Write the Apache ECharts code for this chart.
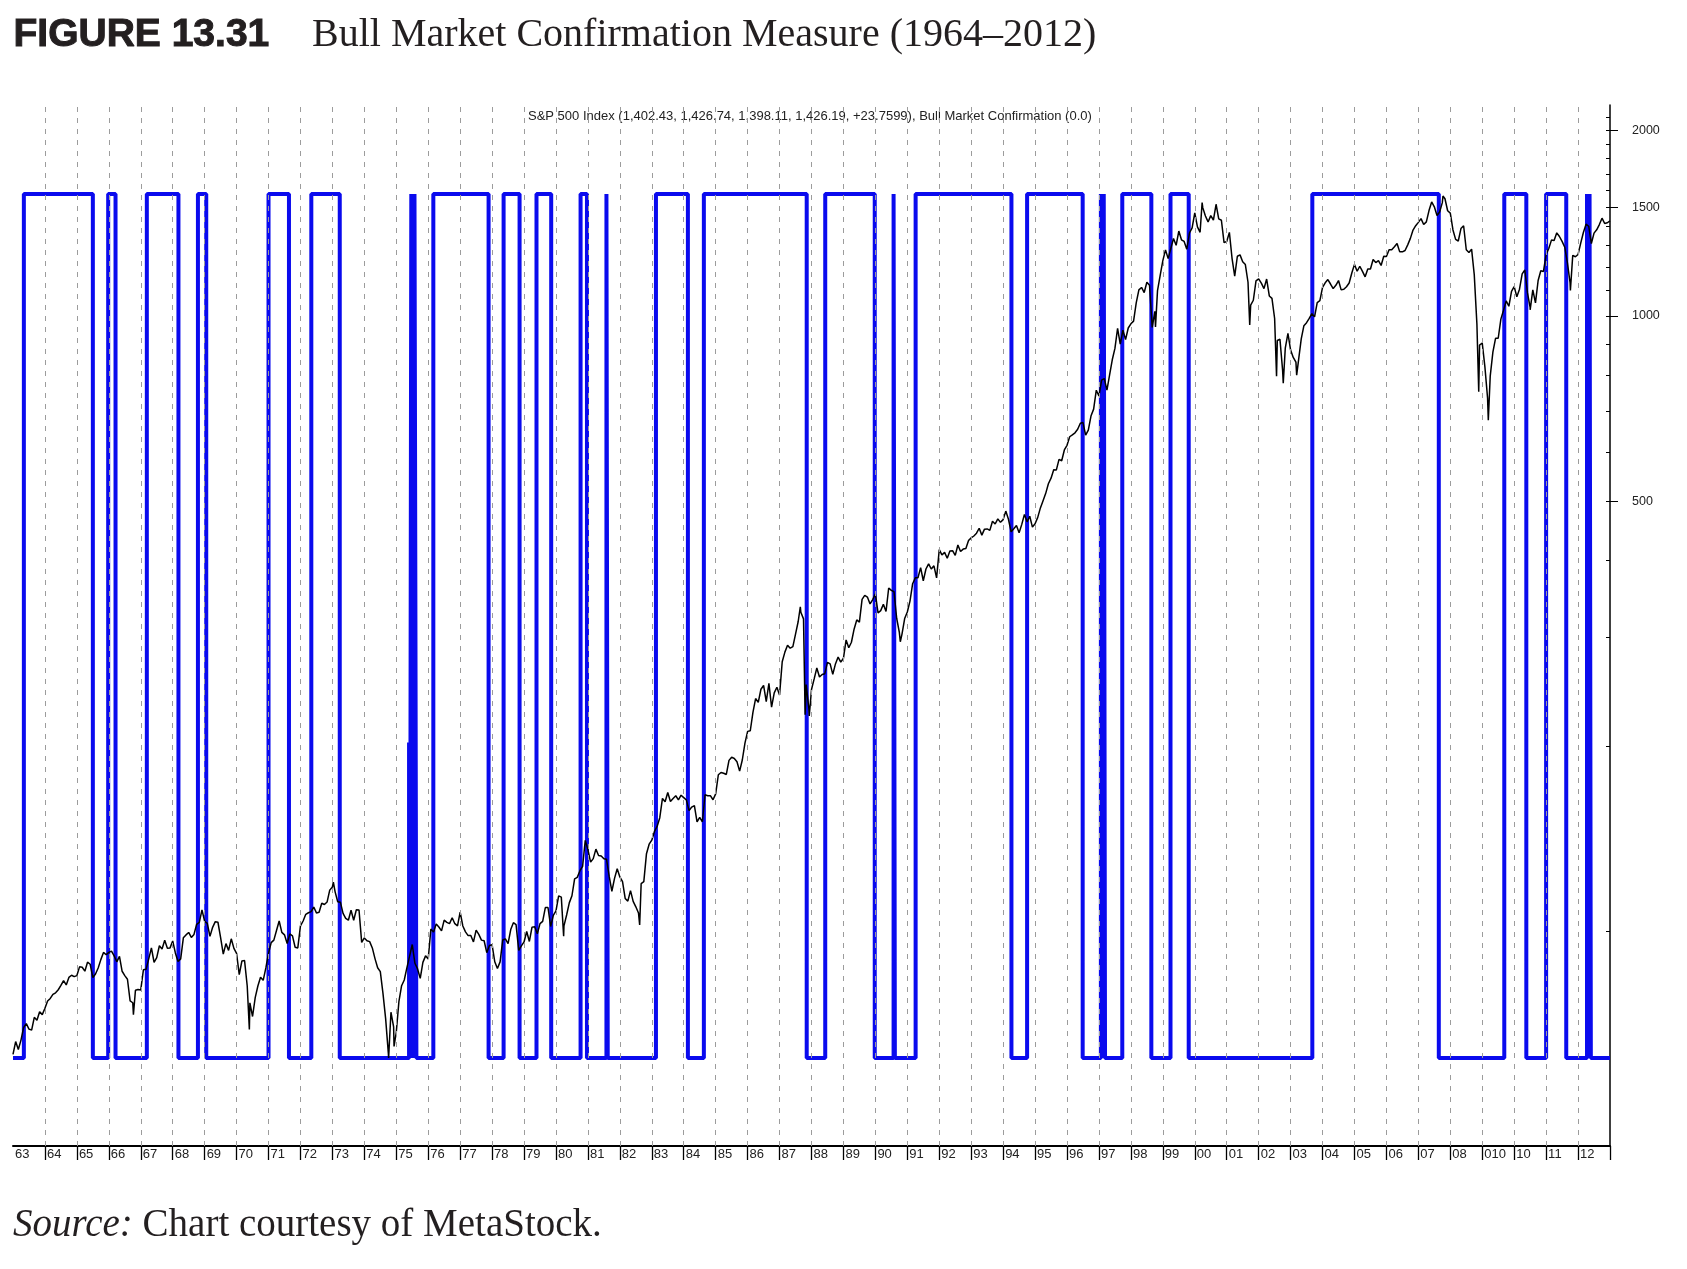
<!DOCTYPE html>
<html><head><meta charset="utf-8">
<script src="https://cdn.jsdelivr.net/npm/echarts@6/dist/echarts.min.js"></script>
<style>html,body{margin:0;padding:0;background:#fff;}#chart{width:1687px;height:1269px;}</style>
</head><body><div id="chart"></div>
<script>
// S&P 500 monthly closes (first value = Dec 1962 close)
const spx1960s = [63.10,
 66.20,64.29,66.57,69.80,70.80,69.37,69.13,72.50,71.70,74.01,73.23,75.02,
 77.04,77.80,78.98,79.46,80.37,81.69,83.18,81.83,84.18,84.86,84.42,84.75,
 87.56,87.43,86.16,89.11,88.42,84.12,85.25,87.17,89.96,92.42,91.61,92.43,
 92.88,91.22,89.23,91.06,86.13,84.74,83.60,77.10,76.56,80.20,80.45,80.33,
 86.61,86.78,90.20,94.01,89.08,90.64,94.75,93.64,96.71,93.90,94.00,96.47,
 92.24,89.36,90.20,97.59,98.68,99.58,97.74,98.86,102.67,103.41,108.37,103.86,
 103.01,98.13,101.51,103.69,103.46,97.71,91.83,95.51,93.12,97.24,93.81,92.06];
const spx1970s = [
 85.02,89.50,89.63,81.52,76.55,72.72,78.05,81.52,84.21,83.25,87.20,92.15,
 95.88,96.75,100.31,103.95,99.63,98.70,95.58,99.03,98.34,94.23,93.99,102.09,
 103.94,106.57,107.20,107.67,109.53,107.14,107.39,111.09,110.55,111.58,116.67,118.05,
 116.03,111.68,111.52,106.97,104.95,104.26,108.22,104.25,108.43,108.29,95.96,97.55,
 96.57,96.22,93.98,90.31,87.28,86.00,79.31,72.15,63.54,73.90,69.97,68.56,
 76.98,81.59,83.36,87.30,91.15,95.19,88.75,86.88,83.87,89.04,91.24,90.19,
 100.86,99.71,102.77,101.64,100.18,104.28,103.44,102.91,105.24,102.90,102.10,107.46,
 102.03,99.82,98.42,98.44,96.12,100.48,98.85,96.77,96.53,92.34,94.83,95.10,
 89.25,87.04,89.21,96.83,97.24,95.53,100.68,103.29,102.54,93.15,94.70,96.11,
 99.93,96.28,101.59,101.76,99.08,102.91,103.81,109.32,109.32,101.82,106.16,107.94];
const spx1980s = [
 114.16,113.66,102.09,106.29,111.24,114.24,121.67,122.38,125.46,127.47,140.52,135.76,
 129.55,131.27,136.00,132.81,132.59,131.21,130.92,122.79,116.18,121.89,126.35,122.55,
 120.40,113.11,111.96,116.44,111.88,109.61,107.09,119.51,120.42,133.71,138.54,140.64,
 145.30,148.06,152.96,164.42,162.39,168.11,162.56,164.40,166.07,163.55,166.40,164.93,
 163.41,157.06,159.18,160.05,150.55,153.18,150.66,166.68,166.10,166.09,163.58,167.24,
 179.63,181.18,180.66,179.83,189.55,191.85,190.92,188.63,182.08,189.82,202.17,211.28,
 211.78,226.92,238.90,235.52,247.35,250.84,236.12,252.93,231.32,243.98,249.22,242.17,
 274.08,284.20,291.70,288.36,290.10,304.00,318.66,329.80,321.83,251.79,230.30,247.08,
 257.07,267.82,258.89,261.33,262.16,273.50,272.02,261.52,271.91,278.97,273.70,277.72,
 297.47,288.86,294.87,309.64,320.52,317.98,346.08,351.45,349.15,340.36,345.99,353.40];
const spx1990s = [
 329.08,331.89,339.94,330.80,361.23,358.02,356.15,322.56,306.05,304.00,322.22,330.22,
 343.93,367.07,375.22,375.34,389.83,371.16,387.81,395.43,387.86,392.45,375.22,417.09,
 408.79,412.70,403.69,414.95,415.35,408.14,424.21,414.03,417.80,418.68,431.35,435.71,
 438.78,443.38,451.67,440.19,450.19,450.53,448.13,463.56,458.93,467.83,461.79,466.45,
 481.61,467.14,445.77,450.91,456.50,444.27,458.26,475.49,462.69,472.35,453.69,459.27,
 470.42,487.39,500.71,514.71,533.40,544.75,562.06,561.88,584.41,581.50,605.37,615.93,
 636.02,640.43,645.50,654.17,669.12,670.63,639.95,651.99,687.31,705.27,757.02,740.74,
 786.16,790.82,757.12,801.34,848.28,885.14,954.29,899.47,947.28,914.62,955.40,970.43,
 980.28,1049.34,1101.75,1111.75,1090.82,1133.84,1120.67,957.28,1017.01,1098.67,1163.63,1229.23,
 1279.64,1238.33,1286.37,1335.18,1301.84,1372.71,1328.72,1320.41,1282.71,1362.93,1388.91,1469.25];
const spx2000s = [
 1394.46,1366.42,1498.58,1452.43,1420.60,1454.60,1430.83,1517.68,1436.51,1429.40,1314.95,1320.28,
 1366.01,1239.94,1160.33,1249.46,1255.82,1224.42,1211.23,1133.58,1040.94,1059.78,1139.45,1148.08,
 1130.20,1106.73,1147.39,1076.92,1067.14,989.82,911.62,916.07,815.28,885.76,936.31,879.82,
 855.70,841.15,848.18,916.92,963.59,974.50,990.31,1008.01,995.97,1050.71,1058.20,1111.92,
 1131.13,1144.94,1126.21,1107.30,1120.68,1140.84,1101.72,1104.24,1114.58,1130.20,1173.82,1211.92,
 1181.27,1203.60,1180.59,1156.85,1191.50,1191.33,1234.18,1220.33,1228.81,1207.01,1249.48,1248.29,
 1280.08,1280.66,1294.83,1310.61,1270.09,1270.20,1276.66,1303.82,1335.85,1377.94,1400.63,1418.30,
 1438.24,1406.82,1420.86,1482.37,1530.62,1503.35,1455.27,1473.99,1526.75,1549.38,1481.14,1468.36,
 1378.55,1330.63,1322.70,1385.59,1400.38,1280.00,1267.38,1282.83,1166.36,968.75,896.24,903.25,
 825.88,735.09,797.87,872.81,919.14,919.32,987.48,1020.62,1057.08,1036.19,1095.63,1115.10];
const spx2010s = [
 1073.87,1104.49,1169.43,1186.69,1089.41,1030.71,1101.60,1049.33,1141.20,1183.26,1180.55,1257.64,
 1286.12,1327.22,1325.83,1363.61,1345.20,1320.64,1292.28,1218.89,1131.42,1253.30,1246.96,1257.60,
 1312.41,1365.68,1408.47,1397.91,1310.33,1362.16,1379.32,1406.58,1440.67,1412.16,1416.18,1426.19];
// notable intramonth closes [date as year fraction, value]
const spxExtremes = [[1966.77,73.20],[1970.40,69.29],[1973.03,120.24],[1974.76,62.28],[1974.93,65.01],
 [1978.18,86.90],[1980.24,98.22],[1982.62,102.42],[1987.65,336.77],[1987.80,224.84],[1987.93,223.92],
 [1990.78,295.46],[1998.77,959.44],[2000.23,1527.46],[2001.72,965.80],[2002.56,797.70],[2002.77,776.76],
 [2003.19,800.73],[2007.77,1565.15],[2008.89,752.44],[2009.19,676.53],[2010.50,1022.58],[2011.76,1099.23],[2012.25,1419.04]];

// Bull Market Confirmation (0/1 step signal): change dates and new values
const signalDates = [1963.00,1963.34,1965.50,1965.98,1966.21,1967.19,1968.18,1968.79,1969.05,1971.00,1971.64,1972.34,1973.23,
 1975.40,1975.43,1975.47,1975.52,1975.57,1975.63,1976.16,1977.89,1978.36,1978.86,1979.39,1979.85,1980.77,1980.97,1981.58,1981.62,
 1983.13,1984.13,1984.63,1987.85,1988.43,1989.98,1990.57,1990.61,1991.26,1994.26,1994.75,1996.49,1997.06,1997.10,1997.15,1997.19,
 1997.73,1998.64,1999.24,1999.81,2003.68,2007.64,2009.69,2010.38,2011.00,2011.63,2012.28,2012.32,2012.36,2012.40,2013.00];
const signalValues = [0,1,0,1,0,1,0,1,0,1,0,1,0,
 0.365,0,1,0,1,0,1,0,1,0,1,0,1,0,1,0,
 1,0,1,0,1,0,1,0,1,0,1,0,1,0,1,0,
 1,0,1,0,1,0,1,0,1,0,1,0,1,0,0];

const xTickLabels = ['63','64','65','66','67','68','69','70','71','72','73','74','75','76','77','78','79','80','81','82','83','84','85','86','87','88','89','90','91','92','93','94','95','96','97','98','99','00','01','02','03','04','05','06','07','08','010','10','11','12'];
const yLabelValues = [500,1000,1500,2000];
const yMinorTickValues = [100,200,300,400,500,600,700,800,900,1000,1100,1200,1300,1400,1500,1600,1700,1800,1900,2000,2100];

function monthly(startX, arr){ return arr.map((v,i)=>[startX + i/12, v]); }
const spxData = [].concat(
  monthly(1963, spx1960s),
  monthly(1970 + 1/12, spx1970s),
  monthly(1980 + 1/12, spx1980s),
  monthly(1990 + 1/12, spx1990s),
  monthly(2000 + 1/12, spx2000s),
  monthly(2010 + 1/12, spx2010s),
  spxExtremes
).sort((a,b)=>a[0]-b[0]);
const signalData = signalDates.map((d,i)=>[d, signalValues[i]]);

const labelYears = xTickLabels.map((_,i)=>1963+i);
const tickYears = labelYears.slice(1).concat([2013]);
const gridYears = labelYears.slice(1);

const chart = echarts.init(document.getElementById('chart'));
const axisFont = 'Liberation Sans';
chart.setOption({
  animation: false,
  backgroundColor: '#fff',
  grid: {left: 13, right: 77, top: 105, bottom: 123},
  xAxis: {
    type: 'value', min: 1963, max: 2013, interval: 1,
    axisLine: {onZero: false, lineStyle: {color: '#000', width: 2}},
    axisTick: {show: true, length: 14, lineStyle: {color: '#000', width: 1.3}, customValues: tickYears},
    axisLabel: {customValues: labelYears, formatter: v => xTickLabels[Math.round(v) - 1963],
      align: 'left', verticalAlign: 'top', margin: 2, padding: [0,0,0,2],
      fontFamily: axisFont, fontSize: 13, color: '#222'},
    splitLine: {show: false}
  },
  yAxis: [
    {type: 'log', logBase: 10, min: 44.8, max: 2200, position: 'right',
     axisLine: {show: true, lineStyle: {color: '#000', width: 1.5}},
     axisTick: {show: true, inside: true, length: 4, customValues: yMinorTickValues, lineStyle: {color: '#000'}},
     axisLabel: {show: true, customValues: yLabelValues, formatter: v => String(Math.round(v)), margin: 22, fontFamily: axisFont, fontSize: 12.5, color: '#222'},
     splitLine: {show: false}},
    {type: 'log', logBase: 10, min: 44.8, max: 2200, position: 'right',
     axisLine: {show: false},
     axisTick: {show: true, inside: false, length: 8, customValues: yLabelValues, lineStyle: {color: '#000'}},
     axisLabel: {show: false}, splitLine: {show: false}},
    {type: 'value', min: -0.102, max: 1.103, show: false, splitLine: {show: false}}
  ],
  series: [
    {name: 'grid', type: 'line', data: [], xAxisIndex: 0, yAxisIndex: 2, z: 1, silent: true,
     markLine: {silent: true, symbol: 'none', label: {show: false},
       lineStyle: {color: '#9c9c9c', width: 1, type: [5, 6]},
       data: gridYears.map(y => ({xAxis: y}))}},
    {name: 'Bull Market Confirmation', type: 'line', step: 'end', data: signalData, yAxisIndex: 2,
     showSymbol: false, z: 2, lineStyle: {color: '#0a0aee', width: 4}},
    {name: 'S&P 500 Index', type: 'line', data: spxData, yAxisIndex: 0,
     showSymbol: false, z: 3, lineStyle: {color: '#000', width: 1.5}}
  ],
  graphic: [
    {type: 'text', left: 13, top: 15, style: {text: 'FIGURE 13.31', font: 'bold 39px "Liberation Sans"', fill: '#231f20', stroke: '#231f20', lineWidth: 1}},
    {type: 'text', left: 312, top: 15, style: {text: 'Bull Market Confirmation Measure (1964–2012)', font: '40px "Liberation Serif"', fill: '#231f20'}},
    {type: 'text', left: 528, top: 110, style: {text: 'S&P 500 Index (1,402.43, 1,426.74, 1,398.11, 1,426.19, +23.7599), Bull Market Confirmation (0.0)', font: '13px "Liberation Sans"', fill: '#222'}},
    {type: 'text', left: 13, top: 1206, style: {
      text: '{i|Source:} Chart courtesy of MetaStock.',
      font: '39px "Liberation Serif"', fill: '#231f20',
      rich: {i: {font: 'italic 39px "Liberation Serif"', fill: '#231f20'}}}}
  ]
});
</script></body></html>
